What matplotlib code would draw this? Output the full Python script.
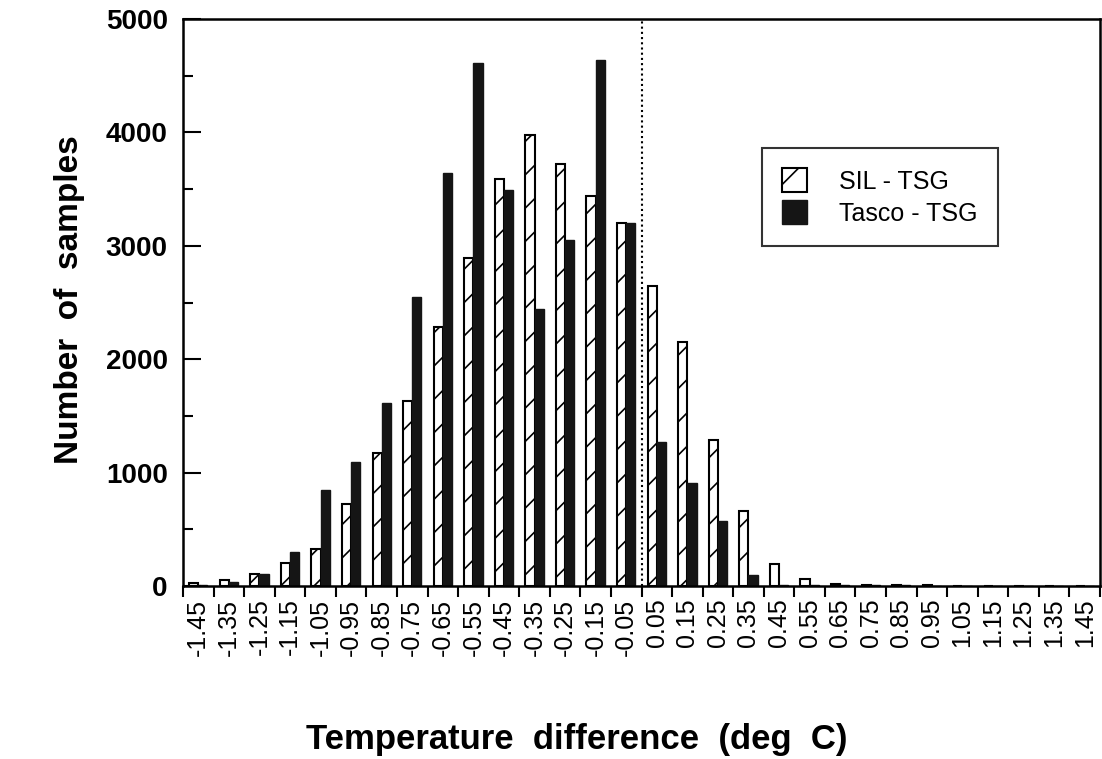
import matplotlib
matplotlib.use("Agg")
import matplotlib.pyplot as plt
from matplotlib.ticker import MultipleLocator, FixedLocator, NullFormatter
import numpy as np

plt.rcParams['font.family'] = ['Liberation Sans', 'DejaVu Sans']
plt.rcParams['hatch.linewidth'] = 1.2

categories = ["-1.45", "-1.35", "-1.25", "-1.15", "-1.05", "-0.95", "-0.85", "-0.75",
              "-0.65", "-0.55", "-0.45", "-0.35", "-0.25", "-0.15", "-0.05",
              "0.05", "0.15", "0.25", "0.35", "0.45", "0.55", "0.65", "0.75",
              "0.85", "0.95", "1.05", "1.15", "1.25", "1.35", "1.45"]
sil_tsg = [25, 55, 110, 200, 330, 720, 1170, 1630, 2280, 2890, 3590, 3980, 3725, 3440, 3200,
           2645, 2155, 1290, 665, 195, 65, 15, 10, 8, 5, 3, 2, 2, 1, 1]
tasco_tsg = [5, 35, 110, 300, 850, 1090, 1610, 2550, 3645, 4610, 3490, 2445, 3050, 4635, 3200,
             1270, 905, 570, 95, 5, 10, 12, 8, 5, 4, 3, 2, 2, 1, 1]

fig = plt.figure(figsize=(11.02, 7.59), dpi=100)
ax = fig.add_axes([183/1102, 1-586/759, 917/1102, (586-19)/759])

x = np.arange(len(categories))
w = 0.3
ax.bar(x - w/2, sil_tsg, width=w, facecolor='white', edgecolor='black',
       hatch='/', linewidth=1.5, label='SIL - TSG')
ax.bar(x + w/2, tasco_tsg, width=w, facecolor='#151515', edgecolor='#151515',
       linewidth=1.0, label='Tasco - TSG')

ax.axvline(14.5, color='black', linestyle=(0, (1, 1.5)), linewidth=1.5)

ax.set_xlim(-0.5, len(categories) - 0.5)
ax.set_ylim(0, 5000)

# x ticks at category boundaries, labels at centers
ax.xaxis.set_major_locator(FixedLocator(np.arange(-0.5, len(categories), 1.0)))
ax.xaxis.set_major_formatter(NullFormatter())
ax.set_xticks(x, categories, minor=True)
ax.tick_params(axis='x', which='major', direction='out', length=8, width=1.5)
ax.tick_params(axis='x', which='minor', length=0, pad=9, labelsize=18, labelrotation=90)

ax.yaxis.set_major_locator(MultipleLocator(1000))
ax.yaxis.set_minor_locator(MultipleLocator(500))
ax.tick_params(axis='y', which='major', direction='in', length=13, width=1.5, labelsize=20, pad=11)
ax.tick_params(axis='y', which='minor', direction='in', length=7, width=1.5)
for lab in ax.get_yticklabels():
    lab.set_fontweight('bold')

for s in ax.spines.values():
    s.set_linewidth(1.8)

fig.text(70/1102, 1-300/759, 'Number  of  samples', fontsize=24, fontweight='bold',
         rotation=90, ha='center', va='center')
fig.text(577/1102, 1-740/759, 'Temperature  difference  (deg  C)', fontsize=25,
         fontweight='bold', ha='center', va='center')

leg = ax.legend(loc='upper left', bbox_to_anchor=(0.631, 0.772), fontsize=18,
                frameon=True, fancybox=False, edgecolor='black', handlelength=1.0,
                handleheight=1.1, borderpad=0.8, labelspacing=0.25, handletextpad=1.3,
                borderaxespad=0)
leg.get_frame().set_linewidth(1.5)

fig.savefig('out.png', dpi=100)
